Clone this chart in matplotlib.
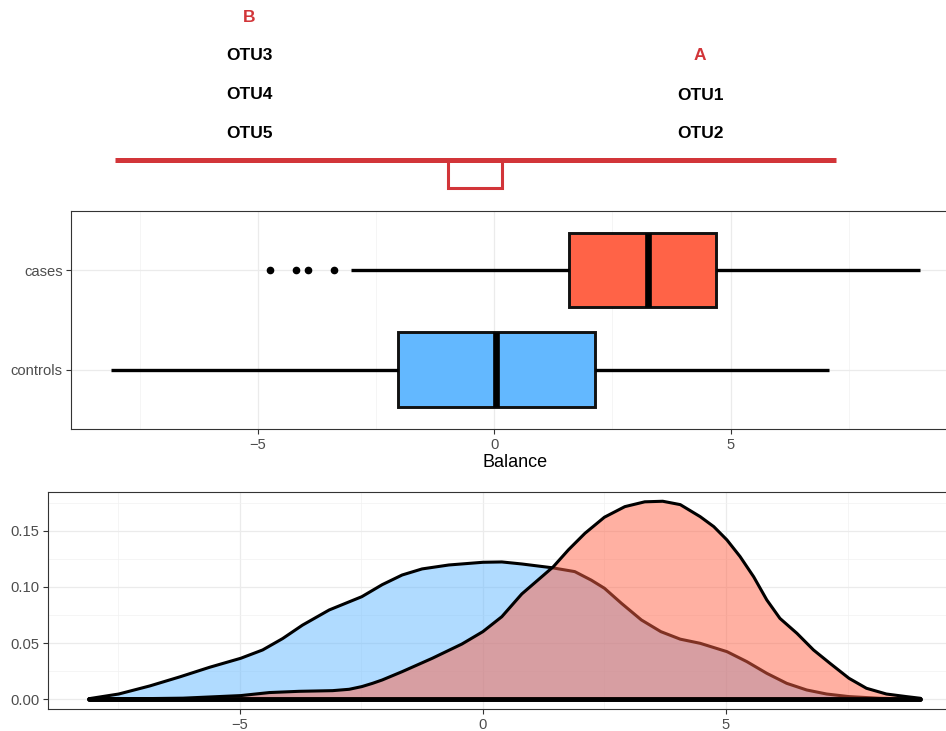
import numpy as np
import matplotlib
matplotlib.use('Agg')
import matplotlib.pyplot as plt
from matplotlib.ticker import MultipleLocator

plt.rcParams['font.family'] = ['Liberation Sans', 'DejaVu Sans']

#%% data
groups = ['controls', 'cases']
box_colors = ['#63B8FF', '#FF6347']
# q1, median, q3, whisker low, whisker high
q1 = [-2.03, 1.59]
med = [0.04, 3.26]
q3 = [2.14, 4.69]
whislo = [-8.10, -3.04]
whishi = [7.08, 9.00]
fliers = [[], [-4.74, -4.19, -3.95, -3.38]]

# density curves (balance, density), one set of points per group
ctrl_x = [-8.1, -8.05, -7.49, -6.85, -6.23, -5.62, -4.98, -4.53, -4.12, -3.71,
          -3.16, -2.49, -2.07, -1.66, -1.25, -0.70, 0.0, 0.39, 0.80, 1.43, 1.89,
          2.23, 2.50, 2.85, 3.26, 3.66, 4.06, 4.47, 5.02, 5.43, 5.84, 6.25, 6.66,
          7.07, 7.53, 8.16, 9.0]
ctrl_y = [0.0005, 0.0009, 0.0047, 0.0119, 0.0200, 0.0285, 0.0365, 0.0439, 0.0540,
          0.0660, 0.0795, 0.0913, 0.1020, 0.1106, 0.1160, 0.1195, 0.1219, 0.1222,
          0.1204, 0.1170, 0.1136, 0.1060, 0.0988, 0.0854, 0.0706, 0.0602, 0.0535,
          0.0498, 0.0424, 0.0335, 0.0231, 0.0142, 0.0083, 0.0047, 0.0024, 0.0009,
          0.0]
case_x = [-8.1, -6.17, -4.98, -4.39, -3.78, -3.09, -2.75, -2.49, -2.27, -2.07,
          -1.66, -1.04, -0.43, 0.0, 0.39, 0.80, 1.21, 1.45, 1.76, 2.10, 2.50, 2.92,
          3.33, 3.70, 4.06, 4.47, 4.75, 5.02, 5.29, 5.57, 5.84, 6.11, 6.46, 6.80,
          7.14, 7.53, 7.89, 8.30, 8.71, 9.0]
case_y = [0.0, 0.0010, 0.0033, 0.0060, 0.0071, 0.0077, 0.0089, 0.0113, 0.0142,
          0.0172, 0.0246, 0.0365, 0.0492, 0.0602, 0.0735, 0.0937, 0.1090, 0.1180,
          0.1330, 0.1477, 0.1620, 0.1714, 0.1757, 0.1762, 0.1732, 0.1625, 0.1536,
          0.1418, 0.1270, 0.1090, 0.0884, 0.0720, 0.0587, 0.0439, 0.0320, 0.0187,
          0.0098, 0.0047, 0.0024, 0.0009]

# balance diagram labels
den_label, den_otus = 'B', ['OTU3', 'OTU4', 'OTU5']
num_label, num_otus = 'A', ['OTU1', 'OTU2']

red = '#D23539'
frame_col = '#333333'
tick_col = '#4D4D4D'
grid_major = '#EBEBEB'
xlim = (-8.955, 9.855)

W, H = 946, 731
fig = plt.figure(figsize=(W / 100, H / 100), dpi=100)

def px_axes(left, top, right, bottom):
    return fig.add_axes([left / W, 1 - bottom / H, (right - left) / W, (bottom - top) / H])

def style(ax):
    for s in ax.spines.values():
        s.set_color(frame_col)
        s.set_linewidth(0.8)
    ax.tick_params(colors=frame_col, labelcolor=tick_col, labelsize=10.6, length=3.5,
                   width=0.8, pad=2.5)
    ax.grid(which='major', color=grid_major, lw=0.9, zorder=0)
    ax.grid(which='minor', color='#F2F2F2', lw=0.5, zorder=0)
    ax.set_axisbelow(True)

#%% top: balance diagram (pixel coordinates of the layout)
ax0 = fig.add_axes([0, 0, 1, 1])
ax0.set_xlim(0, W)
ax0.set_ylim(H, 0)
ax0.axis('off')
txt = dict(ha='center', va='center', fontsize=12.5, fontweight='bold')
ax0.text(249, 18, den_label, color=red, **txt)
for i, o in enumerate(den_otus):
    ax0.text(249, 56 + 38.5 * i, o, color='black', **txt)
ax0.text(700, 56, num_label, color=red, **txt)
for i, o in enumerate(num_otus):
    ax0.text(700, 95 + 38.5 * i, o, color='black', **txt)
ax0.plot([115, 836], [160, 160], color=red, lw=3.6, solid_capstyle='butt')
ax0.plot([447.5, 447.5, 502, 502], [160, 188, 188, 160], color=red, lw=2.2,
         solid_joinstyle='miter')

#%% boxplot
ax1 = px_axes(71, 210.5, 960, 429.3)
style(ax1)
stats = []
for i, g in enumerate(groups):
    stats.append(dict(med=med[i], q1=q1[i], q3=q3[i], whislo=whislo[i],
                      whishi=whishi[i], fliers=fliers[i], label=g))
bp = ax1.bxp(stats, positions=[1, 2], widths=0.75, vert=False, patch_artist=True,
             showcaps=False,
             boxprops=dict(edgecolor='#111111', linewidth=2.1),
             whiskerprops=dict(color='black', linewidth=2.4, solid_capstyle='butt'),
             medianprops=dict(color='black', linewidth=4.8, solid_capstyle='butt'),
             flierprops=dict(marker='o', markerfacecolor='black', markeredgecolor='black',
                             markersize=4.5))
for patch, c in zip(bp['boxes'], box_colors):
    patch.set_facecolor(c)
ax1.set_xlim(*xlim)
ax1.set_ylim(0.4, 2.6)
ax1.set_xticks([-5, 0, 5])
ax1.set_xticklabels(['\u22125', '0', '5'])
ax1.xaxis.set_minor_locator(MultipleLocator(2.5))
ax1.tick_params(which='minor', length=0)
ax1.set_yticks([1, 2])
ax1.set_yticklabels(groups)
ax1.set_xlabel('Balance', fontsize=13, labelpad=2)

#%% density
ax2 = px_axes(47.5, 491.7, 962, 709.3)
style(ax2)
for xs, ys, c, z in [(ctrl_x, ctrl_y, box_colors[0], 2), (case_x, case_y, box_colors[1], 3)]:
    ax2.fill_between(xs, ys, color=c, alpha=0.5, lw=0, zorder=z)
    ax2.plot(xs, ys, color='black', lw=2.2, zorder=z,
             solid_joinstyle='round', solid_capstyle='round')
    # baseline of the density polygon
    ax2.plot([xs[0], xs[-1]], [0, 0], color='black', lw=3.4, zorder=z,
             solid_capstyle='round')
ax2.set_xlim(*xlim)
ax2.set_ylim(-0.0089, 0.1847)
ax2.set_xticks([-5, 0, 5])
ax2.set_xticklabels(['\u22125', '0', '5'])
ax2.set_yticks([0, 0.05, 0.10, 0.15])
ax2.set_yticklabels(['0.00', '0.05', '0.10', '0.15'])
ax2.xaxis.set_minor_locator(MultipleLocator(2.5))
ax2.yaxis.set_minor_locator(MultipleLocator(0.025))
ax2.tick_params(which='minor', length=0)

fig.savefig('out.png', dpi=100)
